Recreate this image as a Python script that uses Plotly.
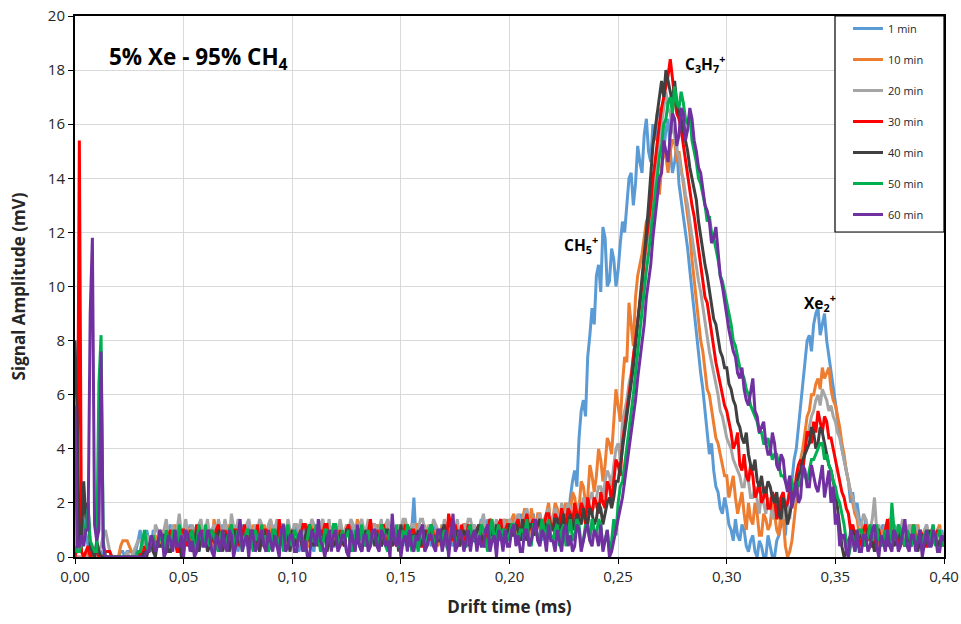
import plotly.graph_objects as go

# Sample grid: 0.000 .. 0.400 ms, one sample every 0.001 ms.
# Each series is stored as its even samples (t = 0.000, 0.002, ... 0.400)
# and its odd samples (t = 0.001, 0.003, ... 0.399), both.
N_EVEN = 201
drift_time = [round(k * 0.001, 3) for k in range(2 * N_EVEN - 1)]

series_names = ["1 min", "10 min", "20 min", "30 min", "40 min", "50 min", "60 min"]
series_colors = ["#5B9BD5", "#ED7D31", "#A5A5A5", "#FF0000", "#404040", "#00B050", "#7030A0"]

even_1min = [
    0, 0.2, 1.4, 0.4, 0.2, 0, 0.2, 0, 0, 0,
    0, 0.2, 0.2, 0.2, 0.2, 1.0, 0.6, 0.6, 1.0, 0.4,
    0.8, 0.4, 1.2, 0.6, 0.2, 1.0, 0.8, 0.4, 1.2, 0.6,
    0.4, 1.0, 0.6, 0.2, 1.2, 0.8, 0.4, 1.0, 0.6, 0.8,
    1.2, 0.4, 0.6, 1.0, 0.2, 0.8, 1.2, 0.6, 0.4, 1.0,
    0.6, 1.0, 0.4, 1.2, 0.8, 0.2, 0.6, 1.4, 0.6, 0.8,
    0.4, 1.0, 0.8, 0.2, 1.2, 0.6, 0.8, 1.0, 0.4, 0.6,
    1.2, 0.6, 0.4, 1.0, 0.8, 0.6, 1.2, 0.4, 2.2, 0.6,
    0.8, 1.0, 0.4, 1.2, 0.6, 0.8, 1.4, 0.4, 1.0, 0.6,
    1.2, 0.6, 0.8, 1.0, 0.4, 1.4, 0.8, 0.6, 1.2, 1.0,
    0.8, 1.4, 1.0, 0.6, 1.6, 1.2, 0.8, 1.4, 1.0, 1.8,
    1.2, 1.6, 1.0, 1.8, 2.2, 3.2, 4.4, 5.8, 7.4, 9.2,
    10.4, 9.8, 11.8, 10.2, 11.0, 10.6, 12.4, 13.2, 14.2, 13.8,
    14.6, 15.6, 15.0, 16.0, 16.4, 15.6, 15.8, 15.0, 14.6, 13.8,
    12.8, 11.4, 9.8, 8.4, 6.8, 5.4, 3.8, 3.2, 2.4, 1.6,
    1.8, 1.0, 1.4, 0.6, 1.0, 0.2, 0.8, 0, 0.4, 0,
    0.4, 0, 0.8, 1.4, 2.0, 2.8, 4.0, 5.8, 7.2, 8.2,
    8.6, 9.2, 8.6, 8.0, 7.0, 5.6, 4.6, 3.6, 2.8, 2.4,
    2.0, 1.2, 1.4, 0.8, 1.0, 0.6, 1.2, 0.4, 0.8, 1.0,
    0.6, 1.2, 0.4, 0.8, 1.0, 0.2, 1.2, 0.6, 0.8, 0.4,
    0.6,
]
odd_1min = [
    0.4, 0.6, 0.8, 0.2, 0, 0.2, 0, 0, 0, 0,
    0.2, 0, 0.2, 0, 0.6, 0.4, 1.0, 0.2, 0.6, 1.0,
    0.2, 1.0, 0.4, 1.0, 0.8, 0.4, 1.2, 0.8, 0.2, 1.0,
    1.0, 0.2, 1.0, 0.8, 0.4, 1.2, 0.6, 0.2, 1.2, 0.4,
    0.6, 1.0, 0.2, 0.6, 1.0, 0.4, 0.6, 1.0, 0.8, 0.4,
    1.2, 0.2, 0.8, 0.6, 0.4, 1.0, 0.8, 0.6, 1.0, 0.4,
    0.8, 0.6, 0.2, 1.0, 0.6, 1.2, 0.4, 0.6, 1.0, 0.8,
    0.4, 1.0, 0.8, 0.6, 1.2, 0.4, 0.8, 1.0, 0.6, 1.0,
    0.4, 0.6, 1.0, 0.8, 1.2, 0.4, 0.6, 1.0, 0.6, 1.2,
    0.8, 1.0, 0.4, 1.4, 0.8, 0.6, 1.2, 1.0, 0.6, 1.4,
    1.2, 0.6, 1.6, 1.0, 0.8, 1.6, 1.2, 0.6, 1.4, 1.0,
    0.8, 1.4, 1.8, 1.2, 2.8, 2.6, 5.4, 5.2, 8.2, 8.6,
    10.8, 12.2, 10.0, 11.4, 10.0, 11.6, 12.0, 14.0, 13.0, 15.2,
    14.2, 16.2, 14.6, 15.4, 16.6, 15.0, 16.2, 14.2, 15.2, 13.2,
    12.0, 10.6, 9.2, 7.6, 6.2, 4.6, 4.2, 2.6, 1.8, 2.2,
    1.2, 0.6, 0.8, 1.2, 0.4, 0.6, 0.2, 0.6, 0, 0.8,
    0, 0.6, 1.2, 0.8, 2.6, 3.6, 4.8, 6.6, 8.0, 7.6,
    9.0, 8.2, 9.0, 7.4, 6.2, 5.0, 4.0, 3.2, 2.0, 1.6,
    1.4, 0.8, 1.0, 1.2, 0.4, 1.0, 0.6, 1.0, 1.2, 0.6,
    1.0, 0.6, 1.0, 0.4, 0.6, 0.8, 0.4, 1.0, 0.4, 1.0,
]

even_10min = [
    0, 0, 0, 0.2, 0, 0, 0, 0, 0, 0,
    0, 0.6, 0.6, 0.2, 0, 0.2, 0.4, 0.6, 0.2, 0.6,
    1.0, 0.6, 0.4, 1.2, 0.8, 0.6, 1.0, 0.4, 0.8, 1.2,
    0.6, 0.8, 1.4, 0.4, 1.0, 0.6, 0.8, 1.2, 0.4, 1.0,
    0.8, 1.2, 0.6, 0.4, 1.0, 1.4, 0.6, 0.8, 1.2, 0.4,
    1.0, 0.6, 1.2, 0.8, 0.4, 1.0, 0.8, 1.2, 0.6, 1.0,
    0.6, 1.2, 0.8, 1.0, 0.4, 1.4, 0.6, 0.8, 1.0, 0.6,
    1.0, 0.8, 1.2, 0.4, 1.0, 0.6, 1.4, 0.8, 0.6, 1.2,
    0.8, 0.4, 1.2, 1.0, 0.6, 0.8, 1.2, 0.6, 1.0, 0.8,
    1.2, 0.6, 1.0, 0.8, 1.4, 0.6, 1.0, 1.2, 0.8, 1.4,
    1.0, 1.6, 0.8, 1.4, 1.2, 1.8, 1.0, 1.6, 1.2, 2.0,
    1.4, 1.8, 1.2, 2.0, 1.6, 2.2, 1.8, 2.6, 2.2, 3.0,
    3.0, 3.6, 3.4, 4.2, 5.0, 5.6, 6.4, 7.2, 8.6, 9.6,
    10.8, 11.8, 12.6, 13.2, 14.0, 14.4, 14.8, 15.0, 15.4, 15.0,
    13.8, 12.6, 11.0, 9.4, 8.0, 6.8, 6.0, 5.0, 4.2, 3.4,
    3.0, 2.6, 2.2, 2.0, 1.6, 2.0, 1.2, 1.6, 0.8, 1.4,
    1.2, 1.6, 0.8, 1.4, 0, 0.6, 2.2, 3.6, 4.6, 5.4,
    6.0, 6.6, 7.0, 6.8, 6.2, 5.6, 4.8, 3.8, 2.8, 2.0,
    1.4, 1.0, 0.6, 1.2, 0.8, 0.4, 1.0, 0.6, 1.2, 0.8,
    0.4, 1.0, 0.8, 0.6, 1.2, 0.4, 0.8, 1.0, 0.6, 1.2,
    0.8,
]
odd_10min = [
    0, 0, 0, 0, 0, 0, 0, 0, 0, 0,
    0.4, 0.6, 0.4, 0, 0.2, 0.4, 0.2, 0.4, 0.8, 0.4,
    0.4, 0.8, 1.0, 0.6, 0.4, 1.2, 0.6, 1.0, 0.6, 0.4,
    1.2, 0.4, 0.8, 1.0, 0.6, 1.2, 0.4, 0.8, 1.0, 0.6,
    0.4, 0.8, 1.0, 1.2, 0.6, 0.8, 1.2, 0.4, 0.6, 1.0,
    0.6, 1.0, 0.6, 0.4, 1.2, 0.6, 0.4, 0.8, 1.2, 0.6,
    1.0, 0.6, 1.2, 0.4, 1.0, 0.8, 1.0, 0.4, 0.6, 1.2,
    0.6, 1.2, 0.6, 0.8, 0.6, 1.2, 0.8, 1.0, 1.2, 0.6,
    1.2, 0.8, 0.6, 0.4, 1.2, 1.0, 0.6, 1.2, 0.4, 1.2,
    0.8, 1.2, 0.6, 1.2, 0.8, 1.2, 0.6, 0.8, 1.2, 0.8,
    1.4, 1.0, 1.2, 1.8, 0.8, 1.4, 1.6, 1.0, 1.6, 1.2,
    2.0, 1.2, 1.8, 1.4, 2.4, 1.6, 2.8, 2.0, 3.4, 2.4,
    4.0, 2.8, 4.4, 3.8, 6.2, 5.0, 7.4, 9.4, 7.8, 10.4,
    11.2, 12.4, 12.0, 13.8, 13.4, 15.0, 14.2, 15.4, 14.6, 14.4,
    13.0, 12.0, 10.2, 8.8, 7.6, 6.2, 5.4, 4.4, 3.8, 3.0,
    2.2, 3.0, 1.6, 2.4, 1.0, 1.4, 2.0, 0.8, 1.6, 1.0,
    2.0, 1.0, 1.8, 0.4, 0.2, 1.4, 3.0, 4.0, 5.2, 6.0,
    6.4, 6.2, 6.6, 7.0, 5.8, 5.2, 4.2, 3.2, 2.4, 1.6,
    0.8, 1.2, 1.0, 0.6, 1.2, 0.8, 0.4, 1.2, 0.6, 1.0,
    1.0, 0.6, 1.2, 0.8, 0.6, 1.0, 0.4, 0.6, 1.0, 0.4,
]

even_20min = [
    0, 0, 0, 0, 0.2, 0, 0.4, 1.0, 0.2, 0,
    0, 0, 0.2, 0, 0.4, 0.6, 0.2, 0.6, 0.4, 1.0,
    0.6, 1.4, 0.8, 0.4, 1.6, 1.0, 0.6, 1.2, 0.8, 1.4,
    1.0, 0.6, 1.2, 1.4, 0.8, 1.0, 1.6, 0.6, 1.2, 0.8,
    1.4, 0.8, 1.0, 1.2, 0.6, 1.4, 1.0, 0.8, 1.2, 1.4,
    0.8, 1.2, 1.4, 0.6, 1.0, 1.2, 0.8, 1.4, 1.0, 0.6,
    1.2, 1.4, 0.8, 1.0, 1.2, 0.6, 1.4, 1.0, 0.8, 1.2,
    1.0, 0.6, 1.4, 1.2, 0.8, 1.0, 1.4, 0.8, 1.2, 1.0,
    1.4, 1.0, 0.8, 1.2, 1.0, 1.4, 0.6, 1.2, 1.4, 0.8,
    1.0, 1.4, 1.2, 0.8, 1.6, 1.0, 1.2, 1.4, 0.8, 1.2,
    1.4, 1.0, 1.6, 1.2, 1.8, 1.4, 1.2, 1.6, 1.4, 1.8,
    1.4, 1.6, 2.0, 1.6, 1.8, 1.4, 2.0, 2.2, 1.8, 2.4,
    2.2, 2.6, 2.8, 3.0, 3.4, 4.2, 5.0, 5.8, 6.8, 8.0,
    9.4, 10.8, 12.0, 13.4, 14.8, 16.0, 17.2, 16.4, 15.6, 14.8,
    14.0, 13.0, 11.8, 10.8, 9.8, 8.6, 7.6, 6.8, 6.0, 5.2,
    4.4, 4.0, 3.4, 3.0, 2.6, 2.8, 2.2, 2.0, 2.4, 1.6,
    2.0, 1.6, 2.2, 1.4, 1.8, 2.4, 2.6, 3.2, 4.0, 4.8,
    5.4, 6.0, 6.2, 5.8, 5.6, 5.0, 4.4, 3.6, 2.8, 2.2,
    1.6, 1.2, 1.4, 1.0, 2.2, 1.2, 0.6, 1.0, 1.4, 0.8,
    1.0, 0.6, 1.2, 0.8, 1.0, 0.4, 1.2, 0.8, 0.6, 1.0,
    0.6,
]
odd_20min = [
    0, 0, 0, 0, 0, 0.2, 0.8, 0.6, 0, 0,
    0, 0, 0, 0.2, 0.6, 0.4, 0.8, 0.4, 1.2, 0.6,
    1.0, 0.8, 1.2, 1.0, 0.8, 1.4, 1.0, 0.8, 1.2, 0.6,
    1.4, 1.0, 0.8, 1.0, 1.4, 0.6, 1.0, 1.4, 0.8, 1.2,
    1.0, 1.2, 1.4, 0.8, 1.2, 1.0, 1.4, 1.2, 0.8, 1.0,
    1.2, 1.0, 0.8, 1.2, 1.4, 0.8, 1.2, 1.0, 1.4, 1.2,
    0.8, 1.0, 1.2, 1.4, 0.8, 1.2, 1.0, 1.4, 1.2, 0.8,
    1.4, 1.2, 1.0, 0.8, 1.2, 1.4, 1.0, 1.2, 0.8, 1.4,
    1.0, 1.2, 1.4, 1.0, 0.8, 1.0, 1.2, 1.0, 0.8, 1.2,
    1.4, 1.0, 0.8, 1.2, 1.0, 1.4, 1.0, 0.8, 1.4, 1.0,
    1.2, 1.4, 1.2, 1.6, 1.2, 1.0, 1.4, 1.2, 1.6, 1.2,
    1.8, 1.2, 1.6, 2.0, 1.2, 1.8, 1.6, 1.8, 2.2, 1.8,
    2.6, 2.2, 3.2, 2.6, 4.0, 3.6, 5.4, 6.4, 7.4, 8.6,
    10.0, 11.4, 12.8, 14.0, 15.4, 16.4, 16.6, 15.8, 15.0, 14.2,
    13.4, 12.4, 11.2, 10.2, 9.2, 8.0, 7.2, 6.4, 5.4, 4.8,
    4.2, 3.6, 3.2, 2.6, 3.2, 2.2, 2.6, 1.6, 2.0, 2.2,
    1.4, 2.0, 1.8, 2.0, 1.4, 2.0, 3.0, 3.6, 4.4, 5.2,
    5.8, 5.6, 6.0, 5.4, 5.2, 4.6, 4.0, 3.2, 2.4, 1.8,
    1.2, 1.6, 0.8, 1.4, 1.0, 0.8, 1.2, 1.4, 1.0, 1.2,
    1.4, 1.0, 0.8, 1.2, 0.6, 1.0, 0.8, 1.2, 1.0, 0.8,
]

even_30min = [
    0, 15.4, 0, 0.4, 0.2, 0.4, 0, 0.2, 0.2, 0,
    0, 0, 0, 0, 0, 0.2, 0.4, 0.2, 0.6, 0.4,
    0.8, 0.4, 1.0, 0.6, 0.2, 1.0, 0.4, 0.8, 1.2, 0.6,
    0.4, 1.0, 0.6, 1.2, 0.4, 0.8, 0.6, 1.0, 0.4, 1.2,
    0.6, 0.8, 1.2, 0.4, 1.0, 0.6, 0.8, 1.4, 0.4, 0.8,
    1.0, 0.4, 0.8, 1.2, 0.6, 1.0, 0.4, 0.8, 1.2, 0.6,
    0.8, 1.0, 0.4, 1.2, 0.8, 0.6, 1.0, 0.4, 1.4, 0.6,
    0.8, 1.2, 0.6, 1.0, 0.4, 0.8, 1.2, 0.6, 1.0, 0.8,
    0.4, 1.0, 1.2, 0.6, 0.8, 1.0, 1.6, 0.6, 0.8, 1.2,
    0.6, 1.0, 0.8, 1.2, 0.4, 1.0, 1.2, 0.8, 1.4, 1.0,
    1.2, 0.8, 1.4, 1.0, 1.6, 1.2, 0.8, 1.4, 1.2, 1.6,
    1.0, 1.4, 1.8, 1.2, 1.6, 2.0, 1.4, 1.8, 2.2, 1.6,
    2.0, 2.4, 1.8, 2.6, 2.8, 3.4, 4.2, 5.4, 6.6, 8.0,
    9.4, 11.0, 12.4, 14.0, 15.4, 16.6, 17.4, 18.4, 17.0, 16.2,
    15.2, 14.2, 13.0, 12.0, 10.8, 9.6, 8.8, 7.8, 6.8, 6.0,
    5.4, 4.6, 4.2, 3.4, 3.8, 2.8, 3.0, 2.4, 2.0, 2.6,
    1.8, 2.2, 1.6, 2.4, 2.0, 2.6, 3.0, 3.6, 4.0, 4.6,
    5.0, 5.4, 4.6, 5.0, 4.4, 3.6, 2.8, 2.2, 1.6, 1.2,
    1.0, 0.6, 1.2, 0.8, 0.4, 1.0, 0.6, 1.4, 0.8, 0.6,
    1.0, 0.4, 0.8, 1.2, 0.6, 0.8, 0.4, 1.0, 0.6, 0.8,
    0.4,
]
odd_30min = [
    0.4, 0.2, 0.2, 0, 0, 0, 0, 0.2, 0, 0,
    0, 0, 0, 0, 0, 0, 0.2, 0.6, 0.4, 0.8,
    0.2, 0.8, 0.6, 0.2, 1.0, 0.6, 1.0, 0.4, 0.6, 1.0,
    0.8, 0.6, 1.0, 0.6, 1.0, 0.4, 1.0, 0.6, 0.8, 0.6,
    1.0, 0.4, 0.6, 1.0, 0.6, 1.0, 0.4, 0.6, 1.0, 0.6,
    0.6, 0.8, 1.2, 0.6, 1.0, 0.6, 1.0, 1.2, 0.4, 1.0,
    0.4, 0.6, 1.0, 0.6, 0.4, 1.0, 0.6, 1.0, 0.6, 1.0,
    1.0, 0.6, 0.8, 0.6, 1.0, 0.6, 0.8, 1.0, 0.6, 0.4,
    0.8, 0.6, 0.8, 1.0, 0.4, 0.6, 1.0, 1.2, 0.4, 0.6,
    1.2, 0.6, 1.0, 0.8, 0.6, 1.4, 0.8, 1.2, 0.6, 1.2,
    1.0, 1.2, 0.8, 1.2, 1.0, 1.4, 1.2, 1.0, 1.6, 1.2,
    1.6, 1.2, 1.4, 1.8, 1.2, 1.6, 2.0, 1.2, 1.8, 2.2,
    1.6, 2.0, 2.8, 2.0, 3.6, 3.0, 4.8, 5.8, 7.4, 8.6,
    10.0, 11.8, 13.0, 14.6, 16.0, 17.0, 17.8, 17.6, 16.4, 15.8,
    14.6, 13.6, 12.6, 11.2, 10.2, 9.4, 8.2, 7.2, 6.4, 5.6,
    5.0, 4.0, 4.6, 3.2, 3.0, 3.4, 2.2, 2.8, 2.2, 1.8,
    2.4, 1.4, 2.2, 1.8, 2.4, 2.2, 3.4, 3.2, 4.6, 4.2,
    4.6, 5.0, 5.2, 4.4, 4.0, 3.2, 2.4, 1.8, 1.0, 0.8,
    0.4, 1.0, 0.6, 0.4, 1.0, 0.6, 1.0, 0.6, 1.0, 0.4,
    0.6, 0.8, 0.4, 0.6, 1.0, 0.4, 0.8, 0.6, 1.0, 0.6,
]

even_40min = [
    8.0, 0.4, 2.8, 2.0, 0.2, 0.6, 0, 0, 0, 0,
    0, 0, 0, 0, 0, 0, 0.2, 0.4, 0.2, 0.6,
    0.4, 0.8, 0.2, 1.0, 0.6, 0.4, 0.8, 0.2, 1.0, 0.6,
    0.8, 0.4, 0.6, 1.0, 0.2, 0.8, 0.6, 0.4, 1.0, 0.6,
    0.4, 1.0, 0.6, 0.8, 0.2, 0.6, 1.0, 0.4, 0.8, 0.6,
    1.0, 0.4, 0.6, 0.8, 1.2, 0.4, 0.8, 0.6, 0.2, 1.0,
    0.6, 0.8, 0.4, 1.0, 0.6, 0.8, 0.2, 1.0, 0.6, 0.4,
    0.8, 0.6, 1.0, 0.4, 0.8, 1.2, 0.6, 0.4, 0.8, 1.0,
    0.6, 0.4, 1.0, 0.8, 0.6, 1.2, 0.4, 0.8, 1.0, 0.6,
    0.8, 1.0, 0.6, 1.2, 0.8, 0.4, 1.0, 1.2, 0.6, 1.0,
    1.2, 0.8, 1.0, 1.4, 0.6, 1.2, 1.0, 1.4, 0.8, 1.2,
    1.0, 1.4, 1.2, 0.8, 1.6, 1.2, 1.4, 1.8, 1.2, 1.6,
    1.4, 1.8, 1.6, 2.2, 2.2, 2.8, 3.8, 5.0, 6.4, 7.8,
    9.4, 11.2, 13.0, 15.2, 16.4, 17.6, 18.0, 17.2, 17.6, 16.4,
    15.8, 15.0, 14.0, 13.2, 11.8, 10.8, 9.8, 8.8, 8.0, 7.4,
    7.0, 6.2, 5.6, 4.8, 4.2, 3.8, 3.2, 2.8, 3.0, 2.4,
    2.6, 2.0, 1.6, 2.2, 1.2, 2.0, 2.6, 3.2, 3.8, 4.2,
    4.6, 4.2, 4.6, 3.8, 3.2, 2.4, 1.0, 0, 0.6, 1.0,
    0.4, 0.8, 0.6, 1.0, 0.2, 0.8, 0.6, 0.4, 1.0, 0.6,
    0.8, 0.4, 0.6, 1.0, 0.2, 0.8, 0.6, 0.4, 0.8, 0.6,
    0.4,
]
odd_40min = [
    5.2, 0.6, 1.4, 0.4, 0, 0.2, 0, 0, 0, 0,
    0, 0, 0, 0, 0, 0, 0, 0.6, 0, 0.4,
    0.8, 0.2, 0.6, 0.4, 0, 0.8, 0.4, 0.6, 0.2, 0.8,
    0.2, 1.0, 0.4, 0.6, 0.8, 0.2, 1.0, 0.6, 0.4, 0.8,
    0.8, 0.6, 0.2, 1.0, 0.6, 0.8, 0.4, 0.6, 1.0, 0.2,
    0.6, 0.8, 0.2, 1.0, 0.6, 0.8, 0.4, 1.0, 0.6, 0.4,
    0.4, 0.6, 1.0, 0.2, 0.8, 0.4, 0.8, 0.4, 1.0, 0.8,
    0.4, 1.0, 0.6, 0.8, 0.2, 0.6, 1.0, 0.8, 0.6, 0.4,
    1.0, 0.8, 0.4, 0.6, 1.0, 0.6, 0.8, 0.6, 0.4, 1.0,
    0.4, 0.6, 1.0, 0.6, 0.4, 0.8, 0.6, 0.8, 1.0, 0.8,
    0.8, 1.2, 0.6, 1.0, 1.2, 0.8, 1.2, 0.8, 1.2, 1.0,
    1.4, 0.8, 1.6, 1.2, 1.0, 1.6, 1.2, 1.4, 1.8, 1.2,
    2.0, 1.2, 2.0, 1.8, 2.8, 3.4, 4.4, 5.6, 7.0, 8.6,
    10.4, 12.0, 14.2, 15.8, 17.0, 17.0, 17.6, 16.8, 16.8, 16.2,
    15.4, 14.4, 13.6, 12.4, 11.2, 10.4, 9.2, 8.6, 7.6, 7.0,
    6.4, 5.8, 5.0, 4.4, 4.6, 3.4, 3.6, 2.6, 2.4, 2.8,
    2.2, 2.4, 1.4, 1.8, 1.6, 2.4, 3.0, 3.6, 4.0, 4.8,
    4.0, 4.8, 4.2, 3.4, 2.8, 1.8, 0.4, 0.2, 0.8, 0.4,
    0.8, 0.4, 1.0, 0.6, 0.6, 0.4, 0.8, 0.8, 0.4, 0.8,
    0.6, 0.8, 0.4, 0.6, 0.8, 0.4, 1.0, 0.6, 0.4, 0.8,
]

even_50min = [
    0.4, 0.2, 0.6, 1.8, 0.4, 0.2, 8.2, 0, 0, 0,
    0, 0, 0, 0, 0, 0.2, 1.0, 0.2, 0.8, 0.4,
    0.6, 1.0, 0.4, 0.8, 1.2, 0.2, 0.6, 1.0, 0.4, 0.8,
    1.2, 0.4, 0.8, 0.2, 1.0, 0.6, 1.2, 0.4, 0.8, 0.6,
    1.0, 0.2, 0.6, 1.2, 0.8, 0.4, 1.0, 0.6, 0.2, 1.2,
    0.4, 0.8, 1.0, 0.2, 1.2, 0.6, 0.8, 0.4, 1.0, 0.6,
    1.2, 0.4, 0.6, 1.0, 0.2, 0.8, 1.2, 0.6, 0.4, 1.0,
    0.6, 1.0, 0.2, 0.8, 1.2, 0.4, 0.6, 1.0, 0.8, 0.2,
    1.0, 0.6, 1.2, 0.4, 0.8, 1.0, 0.2, 1.2, 0.6, 0.8,
    0.4, 1.2, 0.8, 0.6, 1.0, 0.2, 1.4, 0.8, 0.6, 1.0,
    0.8, 1.2, 0.6, 1.0, 1.4, 0.4, 1.2, 0.8, 1.0, 1.4,
    0.6, 1.2, 1.0, 0.4, 1.4, 0.8, 1.2, 0.6, 1.0, 1.4,
    0.8, 1.2, 0.6, 0.2, 1.4, 2.0, 2.8, 4.0, 5.4, 6.8,
    8.2, 9.8, 11.2, 12.8, 14.0, 15.2, 16.2, 17.0, 17.4, 16.6,
    16.8, 16.0, 15.4, 14.6, 13.8, 13.0, 12.6, 11.8, 11.0, 10.2,
    9.4, 8.6, 7.8, 7.0, 6.6, 6.0, 5.4, 5.0, 4.6, 4.2,
    4.0, 3.8, 3.4, 3.0, 2.6, 2.8, 2.4, 2.6, 3.0, 3.2,
    3.6, 4.0, 4.2, 3.8, 3.2, 2.6, 2.0, 1.2, 0, 0.8,
    0.6, 1.0, 0.4, 1.2, 0.8, 0.6, 0.4, 0.8, 2.0, 0.6,
    1.0, 0.4, 0.8, 1.2, 0.6, 0.2, 1.0, 0.8, 0.4, 1.0,
    0.6,
]
odd_50min = [
    0.2, 0.4, 1.2, 0.6, 0.2, 6.4, 0.6, 0, 0, 0,
    0, 0, 0, 0, 0.2, 0.6, 0.4, 0.6, 0.4, 0.8,
    0.2, 0.6, 1.0, 0.4, 0.6, 1.0, 0.8, 0.2, 1.2, 0.4,
    0.6, 1.0, 0.4, 0.8, 0.4, 1.0, 0.6, 1.0, 0.2, 1.0,
    0.6, 1.0, 0.8, 0.4, 0.2, 1.0, 0.4, 1.0, 0.8, 0.6,
    1.0, 0.6, 0.4, 0.8, 0.6, 1.2, 0.2, 1.0, 0.6, 1.2,
    0.6, 1.0, 0.8, 0.4, 1.0, 0.6, 0.4, 1.0, 0.8, 0.4,
    1.2, 0.4, 1.0, 0.6, 0.4, 1.0, 1.2, 0.2, 0.6, 1.0,
    0.4, 1.0, 0.6, 1.0, 0.6, 0.4, 1.0, 0.6, 1.0, 0.4,
    1.0, 0.6, 0.4, 1.2, 0.6, 1.0, 0.6, 1.2, 1.0, 0.6,
    1.2, 0.6, 1.0, 0.8, 0.6, 1.2, 0.6, 1.4, 0.6, 0.8,
    1.0, 0.4, 1.2, 1.0, 0.6, 1.4, 0.4, 1.2, 0.6, 1.0,
    1.4, 0.4, 1.0, 0.6, 0.8, 2.6, 3.4, 4.8, 6.0, 7.6,
    9.0, 10.6, 12.0, 13.4, 14.8, 16.0, 16.8, 16.4, 16.8, 17.2,
    16.2, 16.4, 15.0, 14.0, 13.4, 12.4, 12.0, 11.4, 10.4, 9.8,
    9.0, 8.0, 7.4, 6.8, 6.2, 5.6, 5.2, 4.6, 4.2, 4.4,
    3.6, 3.8, 3.0, 2.8, 3.0, 2.4, 2.8, 3.2, 2.8, 3.6,
    3.8, 4.2, 3.6, 3.4, 2.8, 2.2, 1.6, 0.6, 0.4, 0.2,
    1.0, 0.6, 0.8, 0.6, 1.2, 0.8, 1.0, 0.4, 1.0, 1.2,
    0.6, 1.0, 0.4, 0.6, 1.0, 0.8, 0.4, 1.2, 0.8, 0.4,
]

even_60min = [
    5.6, 0.4, 0.4, 1.0, 11.8, 0.6, 7.6, 0, 0, 0,
    0, 0, 0, 0, 0, 0, 0, 0.2, 0.6, 0.4,
    0.8, 0.2, 0.6, 1.0, 0.4, 0, 0.8, 0.6, 0.2, 1.0,
    0.4, 0.8, 0, 0.6, 1.0, 0.2, 0.8, 0.4, 1.4, 0.6,
    0, 0.8, 0.4, 1.0, 0.2, 0.6, 0.8, 0, 1.2, 0.4,
    0.8, 0.2, 1.0, 0.6, 0, 0.8, 1.4, 0.4, 0.6, 0.2,
    1.0, 0.4, 0.8, 0, 0.6, 1.2, 0.2, 0.8, 0.4, 1.0,
    0.2, 0.8, 0.6, 1.6, 0.4, 0, 0.8, 1.0, 0.2, 0.6,
    1.2, 0.4, 0.8, 0.2, 1.0, 0.6, 0, 1.6, 0.4, 0.8,
    0.6, 0.2, 1.0, 0.8, 0.4, 1.2, 0.6, 0, 0.8, 1.0,
    0.4, 1.2, 0.8, 0.2, 1.0, 0.6, 1.4, 0.4, 0.8, 1.2,
    0.6, 1.0, 0.2, 1.2, 0.8, 0.4, 1.0, 0.6, 1.2, 0.4,
    0.8, 1.2, 0.6, 0, 0.6, 1.4, 2.2, 3.4, 4.6, 5.8,
    7.2, 8.6, 10.2, 11.8, 13.4, 14.2, 15.0, 15.6, 16.2, 15.6,
    16.4, 15.8, 16.2, 15.0, 14.2, 13.0, 12.4, 11.8, 11.2, 10.0,
    8.8, 8.0, 7.4, 6.6, 6.2, 5.6, 6.6, 5.2, 4.8, 4.2,
    3.8, 4.2, 3.2, 3.6, 2.4, 1.8, 2.8, 2.2, 3.2, 2.6,
    3.0, 2.4, 3.4, 2.8, 2.0, 1.2, 0.4, 0.8, 0, 0.6,
    1.0, 0.2, 0.8, 0.4, 1.2, 0, 0.6, 1.0, 0.2, 0.8,
    0.4, 1.4, 0.2, 0.8, 0.6, 0, 1.0, 0.4, 0.8, 0.2,
    0.6,
]
odd_60min = [
    0.4, 0.8, 1.0, 9.0, 1.2, 1.0, 0.4, 0, 0, 0,
    0, 0, 0, 0, 0, 0, 0.2, 0.8, 0.2, 1.0,
    0, 0.8, 0.2, 0.4, 0.8, 1.0, 0.2, 0, 0.8, 0.4,
    1.0, 0.2, 0.8, 0.2, 0.4, 1.0, 0, 0.8, 0.2, 0.8,
    1.0, 0.2, 0.8, 0.4, 1.0, 0.2, 0.4, 1.0, 0.2, 0.8,
    0.2, 0.8, 0.2, 0, 1.0, 0.4, 0.6, 0, 1.0, 0.8,
    0.2, 0.8, 0.2, 1.0, 0.2, 0.4, 0.8, 0.2, 1.0, 0.4,
    1.0, 0.4, 0, 0.6, 1.0, 0.6, 0.2, 0.4, 0.8, 1.0,
    0.2, 0.8, 0.4, 1.0, 0.2, 1.0, 0.8, 0.2, 1.0, 0.2,
    1.0, 0.8, 0.2, 0.4, 1.0, 0.2, 0.8, 1.0, 0.2, 0.4,
    1.0, 0.4, 0.2, 1.0, 0.4, 1.0, 0.6, 1.0, 0.2, 0.6,
    0.2, 0.6, 1.0, 0.4, 0.2, 1.2, 0.2, 1.0, 0.6, 1.0,
    0.4, 0.2, 1.0, 0.2, 1.0, 1.8, 2.8, 4.0, 5.4, 6.6,
    7.8, 9.6, 10.8, 12.6, 14.0, 15.4, 14.6, 16.4, 15.2, 16.6,
    15.4, 16.6, 15.4, 14.4, 13.6, 12.8, 11.6, 12.2, 10.4, 9.4,
    8.4, 7.6, 6.8, 7.0, 5.8, 6.2, 5.4, 4.6, 5.0, 3.8,
    4.6, 3.4, 3.8, 2.8, 3.0, 2.4, 2.0, 3.4, 2.6, 3.4,
    2.6, 3.0, 2.2, 3.2, 2.6, 1.6, 0.8, 0.2, 1.0, 0.2,
    0.2, 0.8, 0.2, 1.0, 0.4, 0.8, 0.2, 0.4, 1.0, 0.2,
    1.0, 0.4, 0.8, 0.2, 1.0, 0.6, 0.4, 1.0, 0.2, 0.8,
]

even_samples = [even_1min, even_10min, even_20min, even_30min, even_40min, even_50min, even_60min]
odd_samples = [odd_1min, odd_10min, odd_20min, odd_30min, odd_40min, odd_50min, odd_60min]


def merge(even, odd):
    assert len(even) == N_EVEN and len(odd) == N_EVEN - 1, (len(even), len(odd))
    out = []
    for e, o in zip(even, odd):
        out += [e, o]
    out.append(even[-1])
    return out


x_tick_vals = [0.00, 0.05, 0.10, 0.15, 0.20, 0.25, 0.30, 0.35, 0.40]
y_tick_vals = [0, 2, 4, 6, 8, 10, 12, 14, 16, 18, 20]

FONT = "Open Sans"
TXT = "#262626"

fig = go.Figure()
for name, ev, od, col in zip(series_names, even_samples, odd_samples, series_colors):
    fig.add_trace(go.Scatter(
        x=drift_time, y=merge(ev, od), mode="lines", name=name,
        legendgroup=name,
        line=dict(color=col, width=3),
    ))

annotations = [
    dict(x=0.0147, y=18.45, text="<b>5% Xe - 95% CH<sub>4</sub></b>",
         font=dict(size=22.5, color="#000000", family=FONT)),
    dict(x=0.2242, y=11.55, text="<b>CH<sub>5</sub><sup>+</sup></b>",
         font=dict(size=15.5, color="#000000", family=FONT)),
    dict(x=0.2799, y=18.25, text="<b>C<sub>3</sub>H<sub>7</sub><sup>+</sup></b>",
         font=dict(size=15.5, color="#000000", family=FONT)),
    dict(x=0.3346, y=9.4, text="<b>Xe<sub>2</sub><sup>+</sup></b>",
         font=dict(size=15.5, color="#000000", family=FONT)),
]
for a in annotations:
    a.update(xref="x", yref="y", showarrow=False, xanchor="left", yanchor="middle")

# legend frame (white box with black border) in the plot's upper-right corner
legend_box = dict(
    type="rect", xref="paper", yref="paper",
    x0=(835 - 75) / 869, x1=1.0, y0=(557 - 232) / 541, y1=1.0,
    fillcolor="white", line=dict(color="#000000", width=1.2), layer="above",
)

fig.update_layout(
    width=961, height=624,
    template="none",
    margin=dict(l=75, r=17, t=16, b=67, autoexpand=False),
    paper_bgcolor="white", plot_bgcolor="white",
    separators=",.",
    font=dict(family=FONT, color=TXT),
    annotations=annotations,
    shapes=[legend_box],
    showlegend=True,
    legend=dict(
        x=(848 - 75) / 869, y=(557 - 14) / 541, xanchor="left", yanchor="top",
        bgcolor="rgba(0,0,0,0)", borderwidth=0,
        font=dict(size=11, color=TXT, family=FONT),
        tracegroupgap=12,
        itemwidth=30,
    ),
    xaxis=dict(
        range=[0, 0.40], tickvals=x_tick_vals, tickformat=".2f",
        automargin=False,
        showgrid=True, gridcolor="#D9D9D9", gridwidth=1,
        showline=True, linecolor="#000000", linewidth=2, mirror=True,
        ticks="outside", ticklen=5, tickcolor="#000000",
        tickfont=dict(size=15, color=TXT),
        title=dict(text="<b>Drift time (ms)</b>", font=dict(size=17, color=TXT), standoff=16),
        zeroline=False,
    ),
    yaxis=dict(
        range=[0, 20], tickvals=y_tick_vals,
        automargin=False,
        showgrid=True, gridcolor="#D9D9D9", gridwidth=1,
        showline=True, linecolor="#000000", linewidth=2, mirror=True,
        ticks="outside", ticklen=5, tickcolor="#000000",
        tickfont=dict(size=15, color=TXT),
        title=dict(text="<b>Signal Amplitude (mV)</b>", font=dict(size=17, color=TXT), standoff=18),
        zeroline=False,
    ),
)

fig.write_html("out.html")
